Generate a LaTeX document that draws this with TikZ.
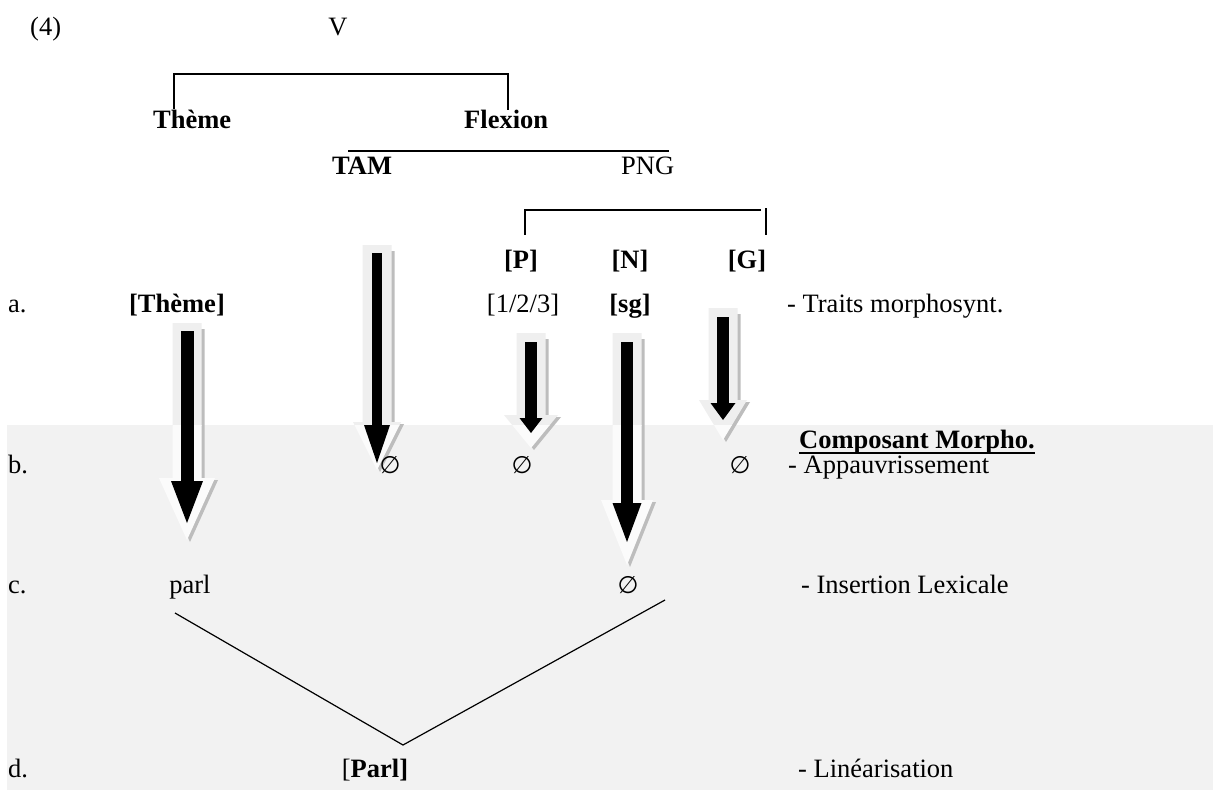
\documentclass[tikz,border=0pt]{standalone}
\usepackage{fontspec}
\setmainfont{Liberation Serif}
\newfontfamily\symf{DejaVu Sans}
\definecolor{bggray}{HTML}{F2F2F2}
\definecolor{shadowgray}{HTML}{BDBDBD}
\definecolor{outlw}{HTML}{EFEFEF}
\definecolor{outlg}{HTML}{FBFBFB}
% #1 cx, #2 outline top, #3 black top, #4 black head top, #5 black tip,
% #6 outline head half width, #7 outline tip, #8 black head half width, #9 black shaft half width
\newcommand\fatarrow[9]{%
  \fill[shadowgray,shift={(3,2)}] (#1-14.5,#2+4) -- (#1+14.5,#2+4) -- (#1+14.5,#4-3) -- (#1+#6,#4-3) -- (#1,#7) -- (#1-#6,#4-3) -- (#1-14.5,#4-3) -- cycle;
  \begin{scope}
    \clip (0,0) rectangle (1213,425);
    \fill[outlw] (#1-14.5,#2) -- (#1+14.5,#2) -- (#1+14.5,#4-3) -- (#1+#6,#4-3) -- (#1,#7) -- (#1-#6,#4-3) -- (#1-14.5,#4-3) -- cycle;
  \end{scope}
  \begin{scope}
    \clip (0,425) rectangle (1213,790);
    \fill[outlg] (#1-14.5,#2) -- (#1+14.5,#2) -- (#1+14.5,#4-3) -- (#1+#6,#4-3) -- (#1,#7) -- (#1-#6,#4-3) -- (#1-14.5,#4-3) -- cycle;
  \end{scope}
  \fill[black] (#1-#9,#3) rectangle (#1+#9,#4);
  \fill[black] (#1-#8,#4) -- (#1+#8,#4) -- (#1,#5) -- cycle;
}
\tikzset{
  lbl/.style={inner sep=0pt, anchor=base west},
  clbl/.style={inner sep=0pt, anchor=base},
  elbl/.style={inner sep=0pt, anchor=base, font=\fontsize{24}{30}\selectfont\symf},
  blbl/.style={inner sep=0pt, anchor=base, font=\fontsize{26.5}{30}\selectfont\bfseries},
  bwlbl/.style={inner sep=0pt, anchor=base west, font=\fontsize{26.5}{30}\selectfont\bfseries},
  treeline/.style={line width=1.4pt, line cap=rect},
  linline/.style={line width=1.2pt}
}
\begin{document}
\begin{tikzpicture}[x=1pt,y=-1pt,font=\fontsize{26.5}{30}\selectfont]
\useasboundingbox (0,0) rectangle (1213,790);
\fill[white] (0,0) rectangle (1213,790);
\fill[bggray] (7,425) rectangle (1213,790);

% header
\node[lbl] (ex) at (30,35) {(4)};
\node[clbl] (V) at (338,35) {V};
\node[bwlbl] (theme) at (153,128) {Thème};
\node[bwlbl] (flex) at (464,128) {Flexion};
\node[bwlbl] (tam) at (332,174) {TAM};
\node[lbl] (png) at (621,174) {PNG};
\node[blbl] (P) at (521,268) {[P]};
\node[blbl] (N) at (630,268) {[N]};
\node[blbl] (G) at (747,268) {[G]};

% brackets
\coordinate (b1l) at (174,108);
\coordinate (b1r) at (508,109);
\draw[treeline] (b1l) -- (174,74) -- (508,74) -- (b1r);
\coordinate (tl) at (349,151);
\coordinate (tr) at (668,151);
\draw[treeline] (tl) -- (tr);
\coordinate (b2l) at (525,234);
\coordinate (b2r) at (760,210);
\draw[treeline] (b2l) -- (525,210) -- (b2r);
\coordinate (b3t) at (766,209);
\coordinate (b3b) at (766,234);
\draw[treeline] (b3t) -- (b3b);

% row a
\node[lbl] (a) at (8,312) {a.};
\node[blbl] (themeb) at (177,312) {[Thème]};
\node[clbl] (pers) at (523,312) {[1/2/3]};
\node[blbl] (sg) at (630,312) {[sg]};
\node[lbl] (ta) at (787,312) {- Traits morphosynt.};

% arrows
\fatarrow{187}{323}{331}{481}{523}{28}{540}{16}{6.5}
\fatarrow{377}{245}{253}{425}{463}{24}{470}{13}{5}
\fatarrow{531}{333}{342}{418}{433}{27}{448}{11.5}{6}
\fatarrow{627}{333}{342}{503}{542}{26}{565}{14.5}{6}
\fatarrow{723}{308}{317}{403}{420}{24}{440}{12.5}{6}

% composant
\node[bwlbl] (comp) at (799,448) {Composant Morpho.};
\draw[line width=2pt] ([yshift=-5pt]comp.base west) -- ([yshift=-5pt]comp.base east);

% row b
\node[lbl] (b) at (8,473) {b.};
\node[elbl] (e1) at (390,473) {∅};
\node[elbl] (e2) at (522,473) {∅};
\node[elbl] (e3) at (740,473) {∅};
\node[lbl] (tb) at (788,473) {- Appauvrissement};

% row c
\node[lbl] (c) at (8,593) {c.};
\node[clbl] (parl) at (190,593) {parl};
\node[elbl] (e4) at (628,593) {∅};
\node[lbl] (tc) at (801,593) {- Insertion Lexicale};

% row d
\node[lbl] (d) at (8,777) {d.};
\node[clbl] (Parl) at (375,777) {[\textbf{Parl]}};
\node[lbl] (td) at (798,777) {- Linéarisation};

% linearisation lines
\coordinate (ls) at (175,613);
\coordinate (lv) at (403,745);
\coordinate (le) at (665,600);
\draw[linline] (ls) -- (lv) -- (le);
\end{tikzpicture}
\end{document}
